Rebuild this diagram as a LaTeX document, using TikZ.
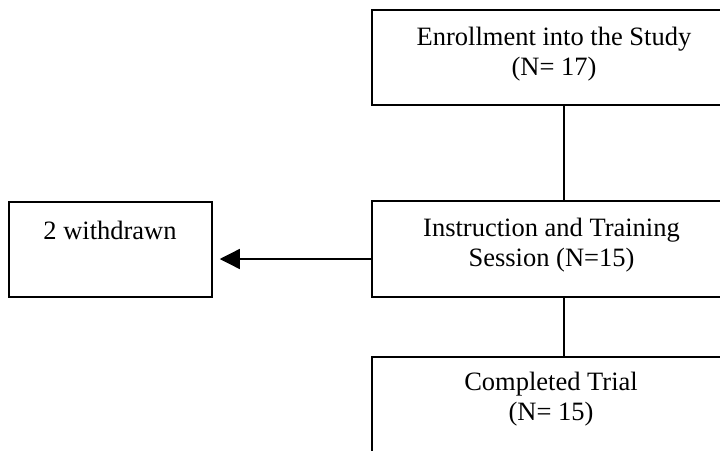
\documentclass[tikz,border=0pt]{standalone}
\usepackage{fontspec}
\setmainfont{Liberation Serif}
\usetikzlibrary{arrows.meta}
\tikzset{
  box/.style={draw=black, line width=1.5pt, rectangle, inner sep=0pt},
  txt/.style={align=center, font=\fontsize{26.5}{30}\selectfont, inner sep=0pt},
  conn/.style={draw=black, line width=1.3pt},
  arr/.style={conn, -{Triangle[length=20pt,width=20pt]}}
}
\begin{document}
\begin{tikzpicture}[x=1pt,y=-1pt]
\clip (0,0) rectangle (720,450);
\fill[white] (0,0) rectangle (720,450);
% boxes
\node[box, minimum width=360pt, minimum height=95pt] (enroll) at (552,57.5) {};
\node[box, minimum width=360pt, minimum height=96pt] (train) at (552,249) {};
\node[box, minimum width=203pt, minimum height=95pt] (withdrawn) at (110.5,249.5) {};
\node[box, minimum width=360pt, minimum height=96pt] (complete) at (552,405) {};
% texts
\node[txt] (enrollT) at (554,54) {Enrollment into the Study\\(N= 17)};
\node[txt] (trainT) at (551.5,245.5) {Instruction and Training\\Session (N=15)};
\node[txt] (withdrawnT) at (110,230) {2 withdrawn};
\node[txt] (completeT) at (551,399.5) {Completed Trial\\(N= 15)};
% connectors
\draw[conn] ([xshift=12pt]enroll.south) -- ([xshift=12pt]train.north);
\draw[conn] ([xshift=12pt]train.south) -- ([xshift=12pt]complete.north);
\draw[arr] ([yshift=-10pt]train.west) -- ([xshift=7pt,yshift=-9.5pt]withdrawn.east);
\end{tikzpicture}
\end{document}
